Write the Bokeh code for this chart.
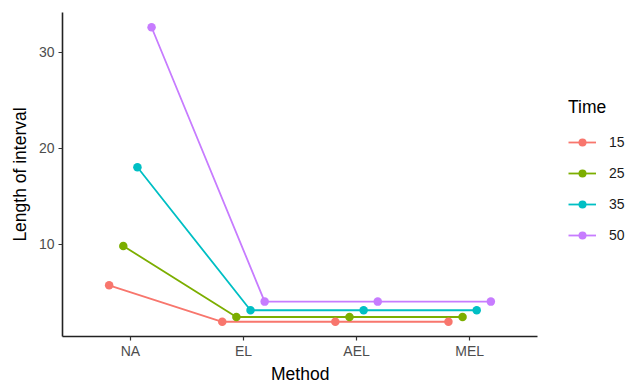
from bokeh.plotting import figure
from bokeh.models import (ColumnDataSource, Range1d, FixedTicker, Legend, LegendItem, Title)
from bokeh.transform import dodge
from bokeh.embed import file_html
from bokeh.resources import INLINE

methods = ["NA", "EL", "AEL", "MEL"]
times = ["15", "25", "35", "50"]
len_15 = [5.7, 1.9, 1.9, 1.9]
len_25 = [9.8, 2.4, 2.4, 2.4]
len_35 = [18.0, 3.1, 3.1, 3.1]
len_50 = [32.6, 4.0, 4.0, 4.0]
series = [len_15, len_25, len_35, len_50]
colors = ["#F8766D", "#7CAE00", "#00BFC4", "#C77CFF"]
y_ticks = [10, 20, 30]

FONT = "Liberation Sans"

# layout (pixels)
W, H = 631, 383
LEFT, AXIS_RIGHT, TOP, BOTTOM = 62, 537, 12, 336

# discrete x scale, ggplot-like 0.6 expansion on each side of the axis
pos = list(range(len(methods)))
x_lo, x_hi = pos[0] - 0.6, pos[-1] + 0.6
px_per_unit = (AXIS_RIGHT - LEFT) / (x_hi - x_lo)
x_end = x_lo + (W - LEFT) / px_per_unit

all_vals = [v for s in series for v in s]
lo, hi = min(all_vals), max(all_vals)
pad = 0.05 * (hi - lo)

p = figure(
    width=W, height=H,
    x_range=Range1d(x_lo, x_end),
    y_range=Range1d(lo - pad, hi + pad),
    output_backend="svg", toolbar_location=None,
    min_border_left=LEFT, min_border_right=0, min_border_top=TOP, min_border_bottom=H - BOTTOM,
)
p.outline_line_color = None
p.xgrid.visible = False
p.ygrid.visible = False
p.background_fill_color = "white"

dodge_width = 0.5
n = len(times)
line_rs, pt_rs = [], []
sources = [ColumnDataSource(dict(x=pos, y=vals)) for vals in series]
for i, (src, c) in enumerate(zip(sources, colors)):
    off = (i - (n - 1) / 2) * dodge_width / n
    lr = p.line(x=dodge("x", off), y="y", source=src, line_color=c, line_width=1.8)
    line_rs.append(lr)
for i, (src, c) in enumerate(zip(sources, colors)):
    off = (i - (n - 1) / 2) * dodge_width / n
    pr = p.scatter(x=dodge("x", off), y="y", source=src,
                   size=8.5, fill_color=c, line_color=None)
    pt_rs.append(pr)

for ax in (p.xaxis[0], p.yaxis[0]):
    ax.axis_line_color = "#222222"
    ax.axis_line_width = 1.6
    ax.major_tick_line_color = "#333333"
    ax.major_tick_line_width = 1.2
    ax.major_tick_in = 0
    ax.major_tick_out = 4
    ax.minor_tick_line_color = None
    ax.major_label_text_font = FONT
    ax.major_label_text_font_size = "14px"
    ax.major_label_text_color = "#4D4D4D"
    ax.axis_label_text_font = FONT
    ax.axis_label_text_font_size = "17.5px"
    ax.axis_label_text_font_style = "normal"
    ax.axis_label_text_color = "black"

p.xaxis.bounds = (x_lo, x_hi)
p.xaxis.ticker = FixedTicker(ticks=pos)
p.xaxis.major_label_overrides = {i: m for i, m in zip(pos, methods)}
p.xaxis.major_label_standoff = 2
p.yaxis.axis_label = "Length of interval"
p.yaxis.ticker = FixedTicker(ticks=y_ticks)
p.yaxis.major_label_standoff = 4
p.yaxis.axis_label_standoff = 6

# x axis title centred under the axis line (not under the whole frame)
TITLE_HALF_WIDTH = 29
x_title = Title(text="Method", align="left",
                offset=(LEFT + AXIS_RIGHT) / 2 - TITLE_HALF_WIDTH - LEFT,
                text_font=FONT, text_font_size="17.5px", text_font_style="normal",
                text_color="black", standoff=0)
p.add_layout(x_title, "below")

items = [LegendItem(label=t, renderers=[lr, pr]) for t, lr, pr in zip(times, line_rs, pt_rs)]
legend = Legend(items=items, location=(568 - LEFT, BOTTOM - 245), title="Time",
                title_text_font=FONT, title_text_font_size="17.5px", title_text_font_style="normal",
                title_text_color="black", title_standoff=14,
                label_text_font=FONT, label_text_font_size="14px", label_text_color="#1A1A1A",
                glyph_width=28, glyph_height=20, label_height=20, label_standoff=13,
                spacing=11, padding=0, margin=0,
                border_line_color=None, background_fill_alpha=0)
p.add_layout(legend, "center")

open("out.html", "w").write(file_html(p, INLINE))
